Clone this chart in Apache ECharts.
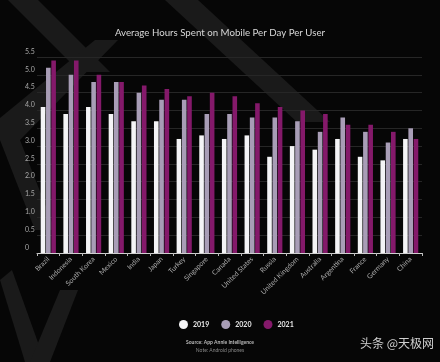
<!DOCTYPE html>
<html>
<head>
<meta charset="utf-8">
<script src="https://cdn.jsdelivr.net/npm/echarts@6/dist/echarts.min.js"></script>
<style>
html,body{margin:0;padding:0;background:#060606;}
#chart{width:440px;height:362px;}
</style>
</head>
<body>
<div id="chart"></div>
<script>
var titleText = 'Average Hours Spent on Mobile Per Day Per User';
var categories = ['Brazil','Indonesia','South Korea','Mexico','India','Japan','Turkey','Singapore','Canada','United States','Russia','United Kingdom','Australia','Argentina','France','Germany','China'];
var seriesNames = ['2019','2020','2021'];
var values2019 = [4.1,3.9,4.1,3.9,3.7,3.7,3.2,3.3,3.2,3.3,2.7,3.0,2.9,3.2,2.7,2.6,3.2];
var values2020 = [5.2,5.0,4.8,4.8,4.5,4.3,4.3,3.9,3.9,3.8,3.8,3.7,3.4,3.8,3.4,3.1,3.5];
var values2021 = [5.4,5.4,5.0,4.8,4.7,4.6,4.4,4.5,4.4,4.2,4.1,4.0,3.9,3.6,3.6,3.4,3.2];
var sourceText = 'Source: App Annie Intelligence';
var noteText = 'Note: Android phones';
var watermarkText = '头条 @天极网';
</script>
<script>
var chart = echarts.init(document.getElementById('chart'), null, {renderer:'canvas'});
var colors = ['#f4f4f6','#a89db6','#84196a'];
var band = '#1a1a1a';
var option = {
  backgroundColor: '#060606',
  animation: false,
  title: {
    text: titleText,
    left: 'center',
    top: 23,
    textStyle: {color:'#d8d8d8', fontSize:9.7, fontWeight:'normal', fontFamily:'Lato'}
  },
  graphic: [
    {type:'polygon', z:-10, silent:true, shape:{points:[[8,0],[38,0],[110,72],[80,72]]}, style:{fill:band}},
    {type:'polygon', z:-10, silent:true, shape:{points:[[165,0],[198,0],[330,122],[297,122]]}, style:{fill:band}},
    {type:'polygon', z:-10, silent:true, shape:{points:[[95,40],[118,40],[20,140],[0,140],[0,118]]}, style:{fill:band}},
    {type:'polygon', z:-10, silent:true, shape:{points:[[0,140],[20,140],[55,230],[35,230]]}, style:{fill:band}},
    {type:'polygon', z:-10, silent:true, shape:{points:[[0,280],[12,270],[45,362],[25,362]]}, style:{fill:band}},
    {type:'polygon', z:-10, silent:true, shape:{points:[[30,362],[60,290],[78,290],[50,362]]}, style:{fill:band}},
    {type:'text', left:'center', top:340, style:{text:sourceText, fill:'#bbbbbb', font:'bold 5px Lato', textAlign:'center'}},
    {type:'text', left:'center', top:348, style:{text:noteText, fill:'#888888', font:'5px Lato', textAlign:'center'}},
    {type:'text', left:360, top:337, style:{text:watermarkText, fill:'#cfcfcf', font:'12px "Noto Sans CJK SC"'}}
  ],
  legend: {
    data: seriesNames,
    top: 315,
    left: 174,
    icon: 'circle',
    itemWidth: 9,
    itemHeight: 9,
    itemGap: 12,
    textStyle: {color:'#e8e8e8', fontSize:7, fontWeight:'bold', fontFamily:'Lato'}
  },
  grid: {left:37, right:18, top:57, bottom:109, containLabel:false},
  xAxis: {
    type: 'category',
    data: categories,
    axisLine: {show:true, lineStyle:{color:'#d0d0d0', width:1}},
    axisTick: {show:true, length:3, lineStyle:{color:'#bbbbbb'}},
    axisLabel: {rotate:45, interval:0, color:'#a8a8a8', fontSize:7, fontFamily:'Lato', margin:5}
  },
  yAxis: {
    type: 'value',
    min: 0,
    max: 5.5,
    interval: 0.5,
    axisLine: {show:false},
    axisTick: {show:false},
    splitLine: {show:true, lineStyle:{color:'#262626', width:1}},
    axisLabel: {
      color:'#a8a8a8', fontSize:7, fontFamily:'Lato', align:'left', margin:12,
      verticalAlign:'bottom', padding:[0,0,2,0],
      formatter: function(v){ return v === 0 ? '0' : v.toFixed(1); }
    }
  },
  series: [
    {name:seriesNames[0], type:'bar', data:values2019, barWidth:4.6, barGap:'15%', itemStyle:{color:colors[0]}},
    {name:seriesNames[1], type:'bar', data:values2020, barWidth:4.6, barGap:'15%', itemStyle:{color:colors[1]}},
    {name:seriesNames[2], type:'bar', data:values2021, barWidth:4.6, barGap:'15%', itemStyle:{color:colors[2]}}
  ]
};
chart.setOption(option);
</script>
</body>
</html>
